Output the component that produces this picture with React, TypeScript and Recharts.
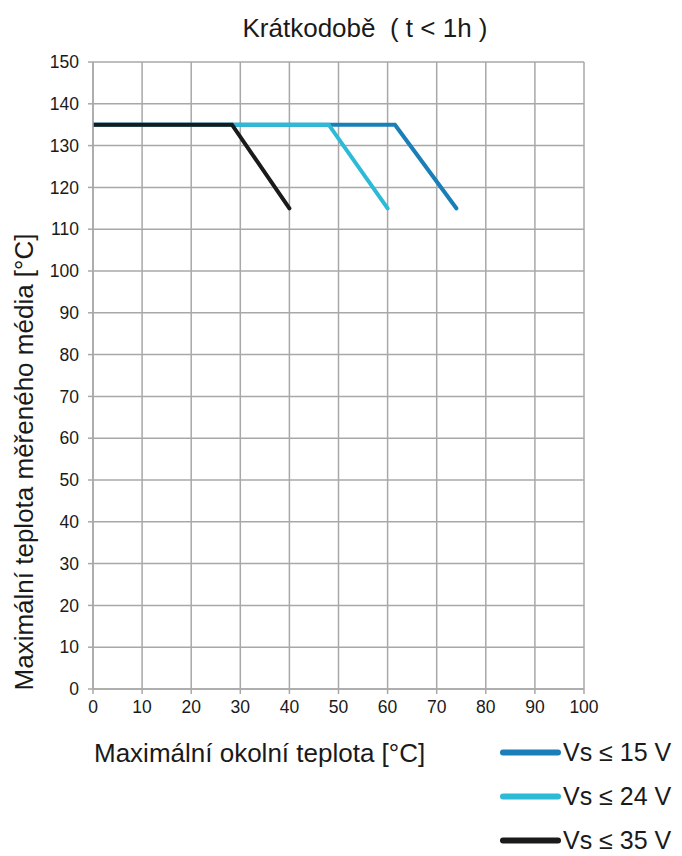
import React from 'react';
import { LineChart, Line, XAxis, YAxis, CartesianGrid } from 'recharts';

// series: ambient temperature -> max medium temperature
const vs15 = [
  { x: 0, y: 135 },
  { x: 61.5, y: 135 },
  { x: 74, y: 115 },
];
const vs24 = [
  { x: 0, y: 135 },
  { x: 48, y: 135 },
  { x: 60, y: 115 },
];
const vs35 = [
  { x: 0, y: 135 },
  { x: 28.3, y: 135 },
  { x: 40, y: 115 },
];

const xTicks = [0, 10, 20, 30, 40, 50, 60, 70, 80, 90, 100];
const yTicks = [0, 10, 20, 30, 40, 50, 60, 70, 80, 90, 100, 110, 120, 130, 140, 150];

const legendItems = [
  { label: 'Vs ≤ 15 V', color: '#1a7fb8' },
  { label: 'Vs ≤ 24 V', color: '#2cbad6' },
  { label: 'Vs ≤ 35 V', color: '#1a1a1a' },
];

const gridColor = '#a8a8a8';
const textColor = '#1a1a1a';
const font = '"Liberation Sans", Arial, sans-serif';

const App: React.FC = () => {
  return (
    <div style={{ position: 'absolute', left: 0, top: 0, width: 682, height: 856, background: '#fff', fontFamily: font, color: textColor, overflow: 'hidden' }}>
      <LineChart
        width={682}
        height={856}
        margin={{ top: 62, right: 98, left: 0, bottom: 0 }}
      >
        <CartesianGrid stroke={gridColor} strokeWidth={1.5} horizontalValues={yTicks} verticalValues={xTicks} />
        <XAxis
          type="number"
          dataKey="x"
          domain={[0, 100]}
          ticks={xTicks}
          interval={0}
          stroke={gridColor}
          strokeWidth={1.5}
          tickSize={5}
          tickMargin={7}
          height={167}
          tick={{ fill: textColor, fontSize: 17.5, fontFamily: font }}
          allowDataOverflow
        />
        <YAxis
          type="number"
          dataKey="y"
          domain={[0, 150]}
          ticks={yTicks}
          interval={0}
          stroke={gridColor}
          strokeWidth={1.5}
          tickSize={5}
          tickMargin={9}
          width={93}
          tick={{ fill: textColor, fontSize: 17.5, fontFamily: font }}
          allowDataOverflow
        />
        <Line data={vs15} dataKey="y" stroke={legendItems[0].color} strokeWidth={4} dot={false} isAnimationActive={false} strokeLinecap="round" />
        <Line data={vs24} dataKey="y" stroke={legendItems[1].color} strokeWidth={4} dot={false} isAnimationActive={false} strokeLinecap="round" />
        <Line data={vs35} dataKey="y" stroke={legendItems[2].color} strokeWidth={4} dot={false} isAnimationActive={false} strokeLinecap="round" />
      </LineChart>

      {/* title */}
      <div style={{ position: 'absolute', left: 365, top: 28, fontSize: 26, whiteSpace: 'pre', transform: 'translate(-50%, -50%)' }}>
        {'Krátkodobě  ( t < 1h )'}
      </div>

      {/* y axis label */}
      <div
        style={{
          position: 'absolute',
          left: 24,
          top: 462,
          fontSize: 26,
          whiteSpace: 'nowrap',
          transform: 'translate(-50%, -50%) rotate(-90deg)',
        }}
      >
        Maximální teplota měřeného média [°C]
      </div>

      {/* x axis label */}
      <div style={{ position: 'absolute', left: 94, top: 753, fontSize: 26, whiteSpace: 'nowrap', transform: 'translateY(-50%)' }}>
        Maximální okolní teplota [°C]
      </div>

      {/* legend */}
      {legendItems.map((item, i) => (
        <div key={item.label} style={{ position: 'absolute', left: 500, top: 752 + i * 44, display: 'flex', alignItems: 'center', fontSize: 25, lineHeight: '25px', whiteSpace: 'nowrap', transform: 'translateY(-50%)' }}>
          <span style={{ display: 'inline-block', width: 61, height: 6, borderRadius: 3, background: item.color, marginRight: 2 }} />
          {item.label}
        </div>
      ))}
    </div>
  );
};

export default App;
